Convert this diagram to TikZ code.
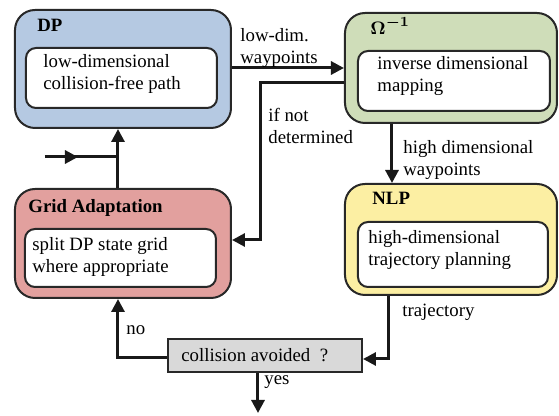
\documentclass[tikz,border=0pt]{standalone}
\usepackage{bm}
\usepackage{fontspec}
\setmainfont{Liberation Serif}
\usetikzlibrary{arrows.meta,calc}
\definecolor{dpblue}{RGB}{181,201,226}
\definecolor{omgreen}{RGB}{207,221,185}
\definecolor{gridred}{RGB}{226,160,158}
\definecolor{nlpyellow}{RGB}{252,239,163}
\definecolor{decgray}{RGB}{217,217,217}
\definecolor{edge}{RGB}{40,40,40}
\begin{document}
\begin{tikzpicture}[x=0.5pt,y=-0.5pt,
  font=\fontsize{9.4}{11}\selectfont,
  outerbox/.style={draw=edge,line width=1pt,rounded corners=10pt,inner sep=0pt},
  innerbox/.style={draw=edge,fill=white,line width=1pt,rounded corners=5pt,inner sep=0pt},
  txt/.style={anchor=west,align=left,inner sep=0pt},
  ttl/.style={anchor=west,inner sep=0pt,font=\fontsize{9.4}{11}\selectfont\bfseries},
  lbl/.style={anchor=west,align=left,inner sep=0pt},
  arr/.style={line width=1.5pt,draw=black!90,-{Triangle[length=6.5pt,width=6.5pt]}},
  ln/.style={line width=1.5pt,draw=black!90}]
\useasboundingbox (0,0) rectangle (559,416);

% DP
\node[outerbox,fill=dpblue,minimum width=108pt,minimum height=59pt] (dp) at (123,69) {};
\node[innerbox,minimum width=95.5pt,minimum height=30pt] (dpi) at (121.5,78) {};
\node[ttl] (dpt) at (37,25) {DP};
\node[txt] (dptx) at (43,74) {low-dimensional\\collision-free path};

% Omega
\node[outerbox,fill=omgreen,minimum width=106pt,minimum height=55pt] (om) at (451,68) {};
\node[innerbox,minimum width=96pt,minimum height=30pt] (omi) at (454,81) {};
\node[ttl] (omt) at (370,26) {$\bm{\Omega^{-1}}$};
\node[txt] (omtx) at (377,76) {inverse dimensional\\mapping};

% Grid adaptation
\node[outerbox,fill=gridred,minimum width=108pt,minimum height=54.5pt] (grid) at (123,243.5) {};
\node[innerbox,minimum width=95.5pt,minimum height=29pt] (gridi) at (120.5,258) {};
\node[ttl] (gridt) at (28,208) {Grid Adaptation};
\node[txt] (gridtx) at (32,257) {split DP state grid\\where appropriate};

% NLP
\node[outerbox,fill=nlpyellow,minimum width=106pt,minimum height=55.5pt] (nlp) at (451,239.5) {};
\node[innerbox,minimum width=95pt,minimum height=32.5pt] (nlpi) at (453,254.5) {};
\node[ttl] (nlpt) at (372,198) {NLP};
\node[txt] (nlptx) at (368,250) {high-dimensional\\trajectory planning};

% decision
\node[draw=edge,fill=decgray,line width=1pt,minimum width=97pt,minimum height=16.5pt,inner sep=0pt] (dec) at (265,355.5) {};
\node[txt] (dectx) at (181,355.5) {collision avoided\ \ ?};

% connectors
\draw[arr] (dp.east |- 0,68) -- (om.west |- 0,68);
\node[lbl] (l1) at (240,48) {low-dim.\\waypoints};

\coordinate (nd1) at (261,83);
\coordinate (nd2) at (261,240);
\draw[arr] (om.west |- nd1) -- (nd1) -- (nd2) -- (grid.east |- nd2);
\node[lbl] (l2) at (268,126) {if not\\determined};

\coordinate (up) at (118,157);
\draw[arr] (grid.north -| up) -- (dp.south -| up);
\coordinate (in) at (45,157);
\coordinate (inm) at (78,157);
\draw[ln] (in) -- (up);
\draw[arr] (in) -- (inm);

\coordinate (hd) at (392,150);
\draw[arr] (om.south -| hd) -- (nlp.north -| hd);
\node[lbl] (l3) at (403,160) {high dimensional\\waypoints};

\coordinate (tr) at (389,359);
\draw[arr] (nlp.south -| tr) -- (tr) -- (dec.east |- tr);
\node[lbl] (l4) at (402,312) {trajectory};

\coordinate (no) at (118,358);
\draw[arr] (dec.west |- no) -- (no) -- (grid.south -| no);
\node[lbl] (l5) at (126,330) {no};

\coordinate (ye) at (258,413);
\draw[arr] (dec.south -| ye) -- (ye);
\node[lbl] (l6) at (264,382) {yes};
\end{tikzpicture}
\end{document}
